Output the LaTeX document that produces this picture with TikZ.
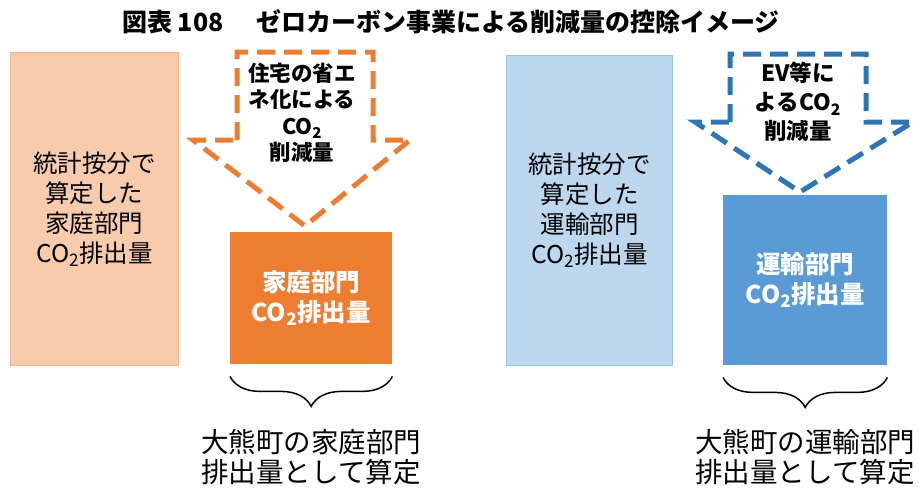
\documentclass[tikz,border=0pt]{standalone}
\usepackage{fontspec}
\setmainfont{Noto Sans CJK JP}
\usepackage{xcolor}
\usetikzlibrary{positioning, decorations.pathreplacing}

\definecolor{houseorange}{HTML}{ED7D31}
\definecolor{houselight}{HTML}{F8CBAD}
\definecolor{houseline}{HTML}{F4B183}
\definecolor{carblue}{HTML}{5B9BD5}
\definecolor{carbluedark}{HTML}{2E75B6}
\definecolor{carlight}{HTML}{BDD7EE}
\definecolor{carline}{HTML}{9DC3E6}

\newcommand{\COtwo}{CO\textsubscript{2}}

\begin{document}
\begin{tikzpicture}[x=1pt, y=-1pt,
	statbox/.style={anchor=north west, line width=1pt, align=center, inner sep=0pt,
		font=\fontsize{24.5}{30}\selectfont},
	sectorbox/.style={anchor=north west, draw=none, align=center, inner sep=0pt, text=white,
		font=\bfseries\fontsize{24.5}{30}\selectfont},
	cutarrow/.style={line width=5pt, dash pattern=on 18pt off 9pt, fill=white},
	cuttext/.style={align=center, inner sep=0pt, font=\bfseries\fontsize{21.5}{26.5}\selectfont},
	townbrace/.style={decorate, decoration={brace, mirror, amplitude=30pt}, line width=1.5pt},
	townnote/.style={align=center, inner sep=0pt, font=\fontsize{27.5}{30}\selectfont}]
	\useasboundingbox (0,0) rectangle (919,490);

	\node[font=\bfseries\fontsize{25}{28}\selectfont] (title) at (451,22)
		{図表 108\hspace{1.3em}ゼロカーボン事業による削減量の控除イメージ};

	% 家庭部門
	\node[statbox, fill=houselight, draw=houseline, minimum width=168pt, minimum height=313pt]
		(hstat) at (10,52) {統計按分で\\算定した\\家庭部門\\\COtwo 排出量};
	\node[sectorbox, fill=houseorange, minimum width=162pt, minimum height=132pt]
		(hbox) at (230,232) {家庭部門\\\COtwo 排出量};
	\draw[cutarrow, draw=houseorange] (237,140) -- (237,52) -- (373,52) -- (373,140)
		-- (410,140) -- (305,226) -- (193,140) -- cycle;
	\node[cuttext] (hcut) at (302,113) {住宅の省エ\\ネ化による\\\COtwo\\削減量};
	\draw[townbrace] ([yshift=-12pt]hbox.south west) -- ([yshift=-12pt]hbox.south east);
	\node[townnote] (hnote) at (311,457) {大熊町の家庭部門\\排出量として算定};

	% 運輸部門
	\node[statbox, fill=carlight, draw=carline, minimum width=166pt, minimum height=310pt]
		(cstat) at (506,55) {統計按分で\\算定した\\運輸部門\\\COtwo 排出量};
	\node[sectorbox, fill=carblue, minimum width=164pt, minimum height=170pt]
		(cbox) at (723,195) {運輸部門\\\COtwo 排出量};
	\draw[cutarrow, draw=carbluedark] (730,122) -- (730,54) -- (866,54) -- (866,122)
		-- (913,122) -- (800,192) -- (695,122) -- cycle;
	\node[cuttext, font=\bfseries\fontsize{22.5}{29}\selectfont] (ccut) at (798,102)
		{EV等に\\よる\COtwo\\削減量};
	\draw[townbrace] ([yshift=-12pt]cbox.south west) -- ([yshift=-12pt]cbox.south east);
	\node[townnote] (cnote) at (805,457) {大熊町の運輸部門\\排出量として算定};
\end{tikzpicture}
\end{document}
